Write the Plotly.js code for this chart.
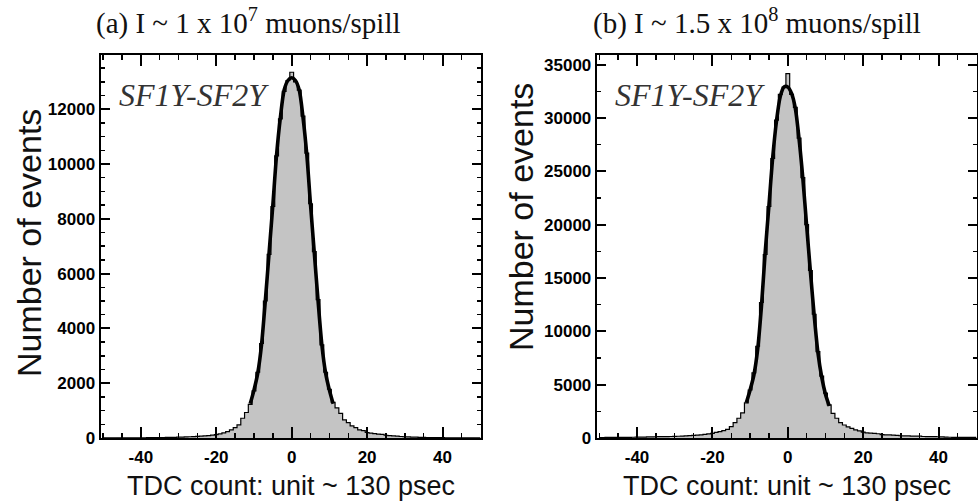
<!DOCTYPE html>
<html><head><meta charset="utf-8">
<script src="https://cdn.plot.ly/plotly-3.0.1.min.js"></script>
<style>html,body{margin:0;padding:0;background:#fff}</style>
</head><body><div id="chart" style="width:978px;height:504px"></div>
<script>
// ---- data ----
// bin centres -50 .. 50 (unit: TDC count)
const binCenters = Array.from({length: 101}, (_, i) => i - 50);

// (a) I ~ 1e7 muons/spill : histogram counts, bins -50..50
const histA = [
  3,3,4,4,5,5,6,6,7,8,                       // -50..-41
  9,10,11,12,14,16,18,20,23,26,              // -40..-31
  30,34,39,45,52,60,68,78,90,105,            // -30..-21
  125,150,185,235,300,380,480,720,930,1230,  // -20..-11
  1720,2400,3450,5000,6700,8450,10300,11650,12650,13050, // -10..-1
  13350,                                     // 0
  13000,12700,11750,10400,8550,6800,5050,3400,2400,1780, // 1..10
  1300,1100,900,660,560,440,380,300,270,200, // 11..20
  175,160,145,130,100,88,76,65,55,45,        // 21..30
  38,33,29,25,22,19,17,15,13,11,             // 31..40
  10,9,8,7,6,6,5,5,4,4                       // 41..50
];

// (b) I ~ 1.5e8 muons/spill : histogram counts, bins -50..50
const histB = [
  40,45,50,52,55,58,60,62,65,70,
  75,80,90,100,110,118,122,126,130,140,
  150,165,180,200,225,250,275,300,340,390,
  440,520,600,700,815,1060,1440,1850,2350,3300,
  4500,6100,8600,12700,17200,21700,26200,29800,32200,32900,
  34150,
  32200,31000,28100,24400,20000,15700,11600,8100,5800,4200,
  3100,2300,1850,1450,1220,1050,900,770,660,560,
  480,450,430,400,320,300,285,270,250,210,
  195,190,185,180,175,140,130,125,120,115,
  110,85,70,65,62,60,58,55,52,50
];

// fit curves (drawn over the fit range only)
const fitX = [-11,-10,-9,-8,-7,-6,-5,-4,-3,-2,-1,0,1,2,3,4,5,6,7,8,9,10,11];
const fitA = [1250,1750,2370,3400,5000,6750,8500,10350,11700,12700,13050,13150,
              13050,12700,11700,10350,8500,6750,5000,3400,2370,1750,1250];
const fitB = [3300,4500,5900,8300,12300,17400,21800,26300,29700,32000,32900,32900,
              32300,30900,28000,24300,19900,15600,11500,8000,5700,4100,3000];

// tick labels
const xTicks = [-40, -20, 0, 20, 40];
const yTicksA = [0, 2000, 4000, 6000, 8000, 10000, 12000];
const yTicksB = [0, 5000, 10000, 15000, 20000, 25000, 30000, 35000];

const titleA = "(a) I ~ 1 x 10<sup>7</sup> muons/spill";
const titleB = "(b) I ~ 1.5 x 10<sup>8</sup> muons/spill";
const xTitle = "TDC count: unit ~ 130 psec";
const yTitle = "Number of events";
const tag = "SF1Y-SF2Y";

// ---- layout helpers ----
const W = 978, H = 504;
const fx = p => p / W, fy = p => 1 - p / H;
const plotTop = 55, plotBot = 438;
const panelA = [100.5, 481], panelB = [596.7, 977];

const tickFont = {family: "Liberation Sans, Arial, sans-serif", size: 17, color: "#000", weight: 700};
function xAx(dom, anchor) {
  return {
    domain: [fx(dom[0]), fx(dom[1])], anchor: anchor, range: [-50.7, 50.2],
    tickmode: "array", tickvals: xTicks, ticktext: xTicks.map(String),
    ticks: "inside", ticklen: 11, tickwidth: 2, tickcolor: "#000", ticklabelstandoff: 3,
    minor: {tickmode: "linear", tick0: 0, dtick: 5, ticks: "inside", ticklen: 5, tickwidth: 1.5, tickcolor: "#000"},
    showline: true, linewidth: 2, linecolor: "#000", mirror: "ticks",
    showgrid: false, zeroline: false, tickfont: tickFont, fixedrange: true
  };
}
function yAx(anchor, max, vals, mdt) {
  return {
    domain: [fy(plotBot), fy(plotTop)], anchor: anchor, range: [0, max],
    tickmode: "array", tickvals: vals, ticktext: vals.map(String),
    ticks: "inside", ticklen: 9, tickwidth: 2, tickcolor: "#000",
    minor: {tickmode: "linear", tick0: 0, dtick: mdt, ticks: "inside", ticklen: 4.5, tickwidth: 1.5, tickcolor: "#000"},
    showline: true, linewidth: 2, linecolor: "#000", mirror: "ticks",
    showgrid: false, zeroline: false, tickfont: tickFont, fixedrange: true
  };
}

function histTrace(y, xa, ya) {
  return {type: "scatter", mode: "lines", x: binCenters, y: y, xaxis: xa, yaxis: ya,
    line: {shape: "hvh", color: "#000", width: 1.2}, fill: "tozeroy", fillcolor: "#c4c4c4",
    hoverinfo: "skip"};
}
function fitTrace(y, xa, ya) {
  return {type: "scatter", mode: "lines", x: fitX, y: y, xaxis: xa, yaxis: ya,
    line: {shape: "spline", smoothing: 0.8, color: "#000", width: 3.6}, hoverinfo: "skip"};
}

const data = [
  histTrace(histA, "x", "y"), fitTrace(fitA, "x", "y"),
  histTrace(histB, "x2", "y2"), fitTrace(fitB, "x2", "y2")
];

const serif = "Liberation Serif, Times New Roman, serif";
const sans = "Liberation Sans, Arial, sans-serif";
function ann(text, x, y, font, extra) {
  return Object.assign({text: text, x: fx(x), y: fy(y), xref: "paper", yref: "paper",
    showarrow: false, font: font, xanchor: "center", yanchor: "middle"}, extra || {});
}

const layout = {
  width: W, height: H, margin: {l: 0, r: 0, t: 0, b: 0},
  paper_bgcolor: "#fff", plot_bgcolor: "#fff", showlegend: false,
  xaxis: xAx(panelA, "y"), yaxis: yAx("x", 13980, yTicksA, 500),
  xaxis2: xAx(panelB, "y2"), yaxis2: yAx("x2", 35900, yTicksB, 2500),
  annotations: [
    ann(titleA, 249, 22, {family: serif, size: 29, color: "#111"}),
    ann(titleB, 757, 22, {family: serif, size: 29, color: "#111"}),
    ann(xTitle, 291, 486, {family: sans, size: 27, color: "#111"}),
    ann(xTitle, 787, 486, {family: sans, size: 27, color: "#111"}),
    ann(yTitle, 29, 243, {family: sans, size: 34, color: "#111"}, {textangle: -90}),
    ann(yTitle, 521, 217, {family: sans, size: 34, color: "#111"}, {textangle: -90}),
    ann(tag, 117, 95, {family: serif, size: 32, color: "#333", style: "italic"}, {xanchor: "left"}),
    ann(tag, 613, 95, {family: serif, size: 32, color: "#333", style: "italic"}, {xanchor: "left"})
  ]
};

Plotly.newPlot("chart", data, layout, {displayModeBar: false, staticPlot: true});
</script>
</body></html>
